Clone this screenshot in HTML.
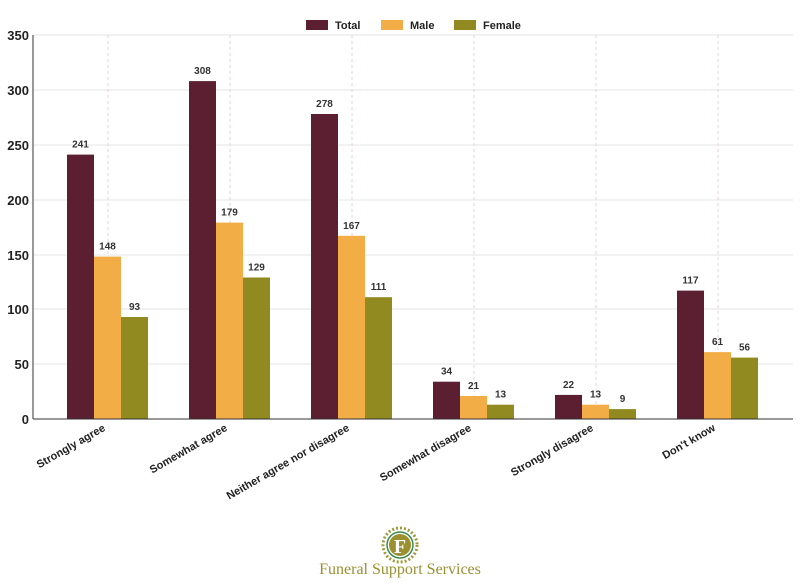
<!DOCTYPE html>
<html><head><meta charset="utf-8"><style>body{margin:0;background:#fff}svg{display:block}</style></head>
<body>
<svg width="800" height="588" viewBox="0 0 800 588" font-family="Liberation Sans, DejaVu Sans, sans-serif">
<rect width="800" height="588" fill="#fff"/>
<g stroke="#e6e6e6" stroke-width="1">
<line x1="33" x2="793" y1="35" y2="35"/><line x1="33" x2="793" y1="90" y2="90"/>
<line x1="33" x2="793" y1="145" y2="145"/><line x1="33" x2="793" y1="200" y2="200"/>
<line x1="33" x2="793" y1="255" y2="255"/><line x1="33" x2="793" y1="309" y2="309"/>
<line x1="33" x2="793" y1="364" y2="364"/>
</g>
<g stroke="#e8d0d8" stroke-dasharray="3,3">
<line x1="108" x2="108" y1="35" y2="419"/><line x1="230" x2="230" y1="35" y2="419"/>
<line x1="352" x2="352" y1="35" y2="419"/><line x1="474" x2="474" y1="35" y2="419"/>
<line x1="596" x2="596" y1="35" y2="419"/><line x1="718" x2="718" y1="35" y2="419"/>
</g>
<g fill="#5c1f32">
<rect x="67" y="154.6" width="27" height="264.4"/>
<rect x="189" y="81.1" width="27" height="337.9"/>
<rect x="311" y="114" width="27" height="305"/>
<rect x="433" y="381.7" width="27" height="37.3"/>
<rect x="555" y="394.9" width="27" height="24.1"/>
<rect x="677" y="290.6" width="27" height="128.4"/>
</g>
<g fill="#f2ad47">
<rect x="94" y="256.6" width="27" height="162.4"/>
<rect x="216" y="222.6" width="27" height="196.4"/>
<rect x="338" y="235.8" width="27" height="183.2"/>
<rect x="460" y="396" width="27" height="23"/>
<rect x="582" y="404.7" width="27" height="14.3"/>
<rect x="704" y="352.1" width="27" height="66.9"/>
</g>
<g fill="#918a20">
<rect x="121" y="317" width="27" height="102"/>
<rect x="243" y="277.5" width="27" height="141.5"/>
<rect x="365" y="297.2" width="27" height="121.8"/>
<rect x="487" y="404.7" width="27" height="14.3"/>
<rect x="609" y="409.1" width="27" height="9.9"/>
<rect x="731" y="357.6" width="27" height="61.4"/>
</g>
<g font-size="10" font-weight="bold" fill="#333" text-anchor="middle">
<text x="80.5" y="147.6">241</text><text x="107.5" y="249.6">148</text><text x="134.5" y="310">93</text>
<text x="202.5" y="74.1">308</text><text x="229.5" y="215.6">179</text><text x="256.5" y="270.5">129</text>
<text x="324.5" y="107">278</text><text x="351.5" y="228.8">167</text><text x="378.5" y="290.2">111</text>
<text x="446.5" y="374.7">34</text><text x="473.5" y="389">21</text><text x="500.5" y="397.7">13</text>
<text x="568.5" y="387.9">22</text><text x="595.5" y="397.7">13</text><text x="622.5" y="402.1">9</text>
<text x="690.5" y="283.6">117</text><text x="717.5" y="345.1">61</text><text x="744.5" y="350.6">56</text>
</g>
<line x1="33" x2="33" y1="35" y2="419" stroke="#333"/>
<line x1="33" x2="793" y1="419" y2="419" stroke="#333"/>
<g font-size="13" font-weight="bold" fill="#222" text-anchor="end">
<text x="29" y="40">350</text><text x="29" y="95">300</text><text x="29" y="150">250</text>
<text x="29" y="205">200</text><text x="29" y="260">150</text><text x="29" y="314">100</text>
<text x="29" y="369">50</text><text x="29" y="424">0</text>
</g>
<g font-size="11" font-weight="bold" fill="#222" text-anchor="end">
<text transform="translate(106,430) rotate(-30)">Strongly agree</text>
<text transform="translate(228,430) rotate(-30)">Somewhat agree</text>
<text transform="translate(350,430) rotate(-30)">Neither agree nor disagree</text>
<text transform="translate(472,430) rotate(-30)">Somewhat disagree</text>
<text transform="translate(594,430) rotate(-30)">Strongly disagree</text>
<text transform="translate(716,430) rotate(-30)">Don't know</text>
</g>
<g font-size="11" font-weight="bold" fill="#222">
<rect x="306" y="20" width="22" height="10" fill="#5c1f32"/><text x="335" y="29">Total</text>
<rect x="381" y="20" width="22" height="10" fill="#f2ad47"/><text x="410" y="29">Male</text>
<rect x="454" y="20" width="22" height="10" fill="#918a20"/><text x="483" y="29">Female</text>
</g>
<g>
<circle cx="400" cy="545" r="17" fill="none" stroke="#a09a3a" stroke-width="3" stroke-dasharray="2,2"/>
<circle cx="400" cy="545" r="13" fill="#fff" stroke="#3a8a4a" stroke-width="1.5"/>
<circle cx="400" cy="545" r="11" fill="#9a9030"/>
<text x="400" y="553" text-anchor="middle" font-family="Liberation Serif, serif" font-size="20" font-weight="bold" fill="#fff">F</text>
<text x="400" y="574" text-anchor="middle" font-family="Liberation Serif, serif" font-size="16" fill="#9a9030">Funeral Support Services</text>
</g>
</svg>
</body></html>
